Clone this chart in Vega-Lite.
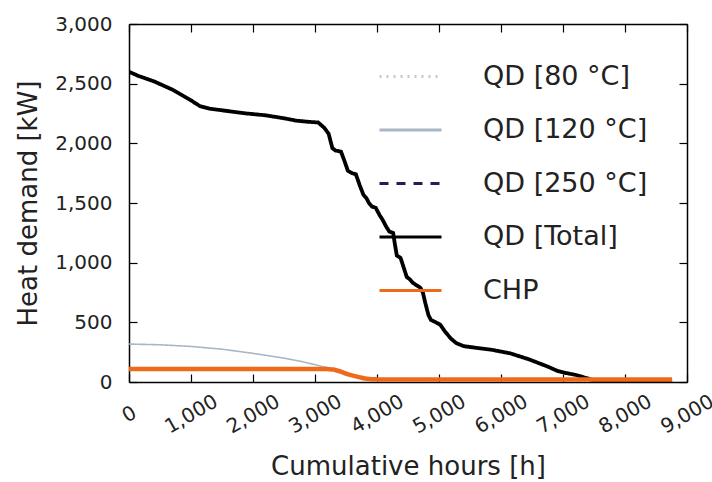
{
  "$schema": "https://vega.github.io/schema/vega-lite/v6.json",
  "width": 558,
  "height": 358,
  "autosize": {"type": "none"},
  "padding": {"left": 129, "top": 24, "right": 25, "bottom": 100},
  "background": "white",
  "config": {
    "font": "DejaVu Sans",
    "view": {"stroke": null},
    "axis": {"grid": false, "domainColor": "black", "domainWidth": 1.5, "tickColor": "black", "tickWidth": 1.2, "tickSize": -8, "labelColor": "#222", "titleColor": "#222", "labelFont": "DejaVu Sans", "titleFont": "DejaVu Sans", "titleFontWeight": "normal", "labelFontSize": 20, "titleFontSize": 26}
  },
  "data": {"values": [
    {"s": "QD [120 °C]", "h": 0, "v": 318},
    {"s": "QD [120 °C]", "h": 500, "v": 312},
    {"s": "QD [120 °C]", "h": 1000, "v": 298},
    {"s": "QD [120 °C]", "h": 1500, "v": 275},
    {"s": "QD [120 °C]", "h": 2000, "v": 240},
    {"s": "QD [120 °C]", "h": 2500, "v": 200},
    {"s": "QD [120 °C]", "h": 2800, "v": 170},
    {"s": "QD [120 °C]", "h": 3000, "v": 145},
    {"s": "QD [120 °C]", "h": 3200, "v": 120},
    {"s": "QD [120 °C]", "h": 3400, "v": 95},
    {"s": "QD [120 °C]", "h": 3600, "v": 60},
    {"s": "QD [120 °C]", "h": 3800, "v": 25},
    {"s": "QD [120 °C]", "h": 3950, "v": 5},
    {"s": "QD [120 °C]", "h": 4000, "v": 0},
    {"s": "QD [Total]", "h": 0, "v": 2600},
    {"s": "QD [Total]", "h": 150, "v": 2565},
    {"s": "QD [Total]", "h": 400, "v": 2520},
    {"s": "QD [Total]", "h": 700, "v": 2450},
    {"s": "QD [Total]", "h": 1000, "v": 2360},
    {"s": "QD [Total]", "h": 1150, "v": 2310},
    {"s": "QD [Total]", "h": 1300, "v": 2290},
    {"s": "QD [Total]", "h": 1600, "v": 2270},
    {"s": "QD [Total]", "h": 1900, "v": 2250},
    {"s": "QD [Total]", "h": 2200, "v": 2235},
    {"s": "QD [Total]", "h": 2500, "v": 2210},
    {"s": "QD [Total]", "h": 2700, "v": 2190},
    {"s": "QD [Total]", "h": 2900, "v": 2180},
    {"s": "QD [Total]", "h": 3050, "v": 2175},
    {"s": "QD [Total]", "h": 3150, "v": 2130},
    {"s": "QD [Total]", "h": 3220, "v": 2080},
    {"s": "QD [Total]", "h": 3280, "v": 1960},
    {"s": "QD [Total]", "h": 3330, "v": 1940},
    {"s": "QD [Total]", "h": 3420, "v": 1930},
    {"s": "QD [Total]", "h": 3470, "v": 1860},
    {"s": "QD [Total]", "h": 3530, "v": 1770},
    {"s": "QD [Total]", "h": 3600, "v": 1750},
    {"s": "QD [Total]", "h": 3660, "v": 1740},
    {"s": "QD [Total]", "h": 3720, "v": 1650},
    {"s": "QD [Total]", "h": 3780, "v": 1570},
    {"s": "QD [Total]", "h": 3830, "v": 1540},
    {"s": "QD [Total]", "h": 3870, "v": 1500},
    {"s": "QD [Total]", "h": 3920, "v": 1470},
    {"s": "QD [Total]", "h": 3980, "v": 1460},
    {"s": "QD [Total]", "h": 4040, "v": 1400},
    {"s": "QD [Total]", "h": 4090, "v": 1360},
    {"s": "QD [Total]", "h": 4150, "v": 1300},
    {"s": "QD [Total]", "h": 4200, "v": 1260},
    {"s": "QD [Total]", "h": 4260, "v": 1250},
    {"s": "QD [Total]", "h": 4290, "v": 1150},
    {"s": "QD [Total]", "h": 4320, "v": 1060},
    {"s": "QD [Total]", "h": 4380, "v": 1040},
    {"s": "QD [Total]", "h": 4430, "v": 960},
    {"s": "QD [Total]", "h": 4480, "v": 880},
    {"s": "QD [Total]", "h": 4530, "v": 860},
    {"s": "QD [Total]", "h": 4580, "v": 830},
    {"s": "QD [Total]", "h": 4640, "v": 810},
    {"s": "QD [Total]", "h": 4700, "v": 790},
    {"s": "QD [Total]", "h": 4740, "v": 750},
    {"s": "QD [Total]", "h": 4780, "v": 660},
    {"s": "QD [Total]", "h": 4830, "v": 560},
    {"s": "QD [Total]", "h": 4870, "v": 520},
    {"s": "QD [Total]", "h": 4950, "v": 500},
    {"s": "QD [Total]", "h": 5020, "v": 480},
    {"s": "QD [Total]", "h": 5100, "v": 420},
    {"s": "QD [Total]", "h": 5200, "v": 360},
    {"s": "QD [Total]", "h": 5280, "v": 325},
    {"s": "QD [Total]", "h": 5400, "v": 300},
    {"s": "QD [Total]", "h": 5550, "v": 290},
    {"s": "QD [Total]", "h": 5700, "v": 280},
    {"s": "QD [Total]", "h": 5850, "v": 270},
    {"s": "QD [Total]", "h": 6000, "v": 255},
    {"s": "QD [Total]", "h": 6150, "v": 240},
    {"s": "QD [Total]", "h": 6300, "v": 215},
    {"s": "QD [Total]", "h": 6450, "v": 190},
    {"s": "QD [Total]", "h": 6600, "v": 160},
    {"s": "QD [Total]", "h": 6750, "v": 130},
    {"s": "QD [Total]", "h": 6900, "v": 95},
    {"s": "QD [Total]", "h": 7050, "v": 75},
    {"s": "QD [Total]", "h": 7200, "v": 60},
    {"s": "QD [Total]", "h": 7300, "v": 45},
    {"s": "QD [Total]", "h": 7400, "v": 30},
    {"s": "QD [Total]", "h": 7500, "v": 10},
    {"s": "QD [Total]", "h": 7600, "v": 0},
    {"s": "QD [Total]", "h": 8760, "v": 0},
    {"s": "CHP", "h": 0, "v": 108},
    {"s": "CHP", "h": 3200, "v": 108},
    {"s": "CHP", "h": 3300, "v": 104},
    {"s": "CHP", "h": 3400, "v": 90},
    {"s": "CHP", "h": 3500, "v": 70},
    {"s": "CHP", "h": 3600, "v": 55},
    {"s": "CHP", "h": 3700, "v": 42},
    {"s": "CHP", "h": 3800, "v": 30},
    {"s": "CHP", "h": 3900, "v": 24},
    {"s": "CHP", "h": 4000, "v": 22},
    {"s": "CHP", "h": 8760, "v": 22}
  ]},
  "encoding": {
    "x": {"field": "h", "type": "quantitative", "scale": {"domain": [0, 9000], "nice": false, "zero": false}},
    "y": {"field": "v", "type": "quantitative", "scale": {"domain": [0, 3000], "nice": false}},
    "color": {"field": "s", "type": "nominal", "scale": {"domain": ["QD [80 °C]", "QD [120 °C]", "QD [250 °C]", "QD [Total]", "CHP"], "range": ["#c8c8c8", "#aab6c6", "#1f1f5c", "#000000", "#ee6a1a"]},
      "legend": {"title": null, "orient": "none", "legendX": 249, "legendY": 20, "symbolType": "stroke", "symbolSize": 3844, "symbolStrokeWidth": 3, "labelFontSize": 27, "labelLimit": 400, "labelColor": "#222", "labelOffset": 40, "rowPadding": 7.5, "labelFont": "DejaVu Sans"}},
    "strokeDash": {"field": "s", "type": "nominal", "scale": {"domain": ["QD [80 °C]", "QD [120 °C]", "QD [250 °C]", "QD [Total]", "CHP"], "range": [[2, 5], [1, 0], [9, 8], [1, 0], [1, 0]]}, "legend": {"title": null}}
  },
  "layer": [
    {
      "transform": [{"filter": "datum.s !== 'CHP'"}],
      "mark": {"type": "line", "clip": true},
      "encoding": {
        "strokeWidth": {"condition": {"test": "datum.s === 'QD [Total]'", "value": 3.8}, "value": 1.6},
        "x": {"field": "h", "type": "quantitative", "title": "Cumulative hours [h]", "axis": {"values": [0,1000,2000,3000,4000,5000,6000,7000,8000,9000], "format": ",.0f", "labelAngle": -30, "labelAlign": "center", "labelBaseline": "middle", "labelPadding": 40, "titlePadding": 17}},
        "y": {"field": "v", "type": "quantitative", "title": "Heat demand [kW]", "axis": {"values": [0,500,1000,1500,2000,2500,3000], "format": ",.0f", "labelPadding": 25, "titlePadding": 13}}
      }
    },
    {
      "transform": [{"filter": "datum.s === 'CHP'"}],
      "mark": {"type": "line", "clip": true, "strokeWidth": 4.5},
      "encoding": {
        "x": {"field": "h", "type": "quantitative", "axis": {"orient": "top", "labels": false, "title": null, "values": [0,1000,2000,3000,4000,5000,6000,7000,8000,9000]}},
        "y": {"field": "v", "type": "quantitative", "axis": {"orient": "right", "labels": false, "title": null, "values": [0,500,1000,1500,2000,2500,3000]}}
      }
    }
  ],
  "resolve": {"axis": {"x": "independent", "y": "independent"}}
}
